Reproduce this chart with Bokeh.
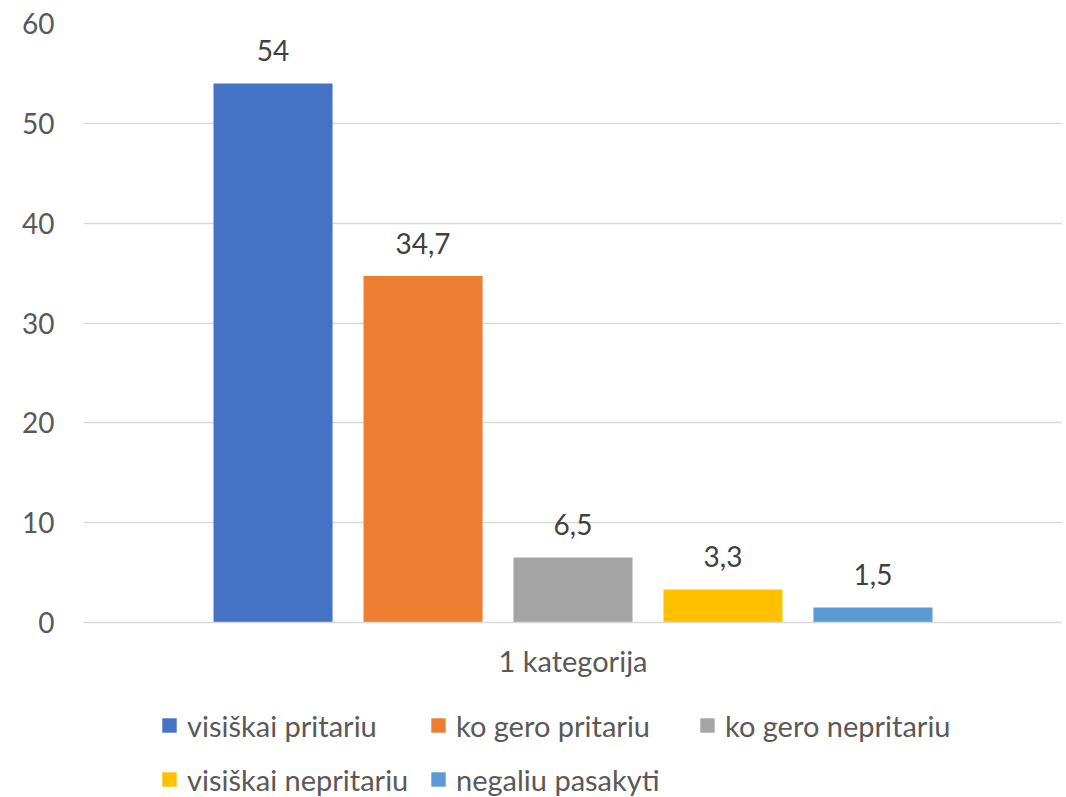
from bokeh.plotting import figure
from bokeh.models import (ColumnDataSource, FactorRange, Range1d, FixedTicker,
                          Legend, LegendItem)
from bokeh.layouts import column
from bokeh.transform import dodge
from bokeh.core.properties import value
from bokeh.embed import file_html
from bokeh.resources import INLINE

category = ["1 kategorija"]
series_names = ["visiškai pritariu", "ko gero pritariu", "ko gero nepritariu",
                "visiškai nepritariu", "negaliu pasakyti"]
series_values = [54, 34.7, 6.5, 3.3, 1.5]
colors = ["#4472C4", "#ED7D31", "#A5A5A5", "#FFC000", "#5B9BD5"]
y_ticks = [0, 10, 20, 30, 40, 50, 60]

FONT = "Lato"
TXT = "#595959"
W = 1062

p = figure(width=W, height=680, x_range=FactorRange(factors=category, range_padding=0),
           y_range=Range1d(0, 60), output_backend="svg", toolbar_location=None,
           min_border_left=83, min_border_right=0, min_border_top=23, min_border_bottom=58)
p.outline_line_color = None
p.xgrid.grid_line_color = None
p.ygrid.grid_line_color = "#D9D9D9"
p.ygrid.grid_line_width = 1.3
p.yaxis.ticker = FixedTicker(ticks=y_ticks)
p.yaxis.axis_line_color = None
p.yaxis.major_tick_line_color = None
p.yaxis.minor_tick_line_color = None
p.yaxis.major_label_standoff = 23
p.yaxis.major_label_text_font = FONT
p.yaxis.major_label_text_font_size = "28px"
p.yaxis.major_label_text_color = TXT
p.xaxis.axis_line_color = "#D9D9D9"
p.xaxis.axis_line_width = 1.3
p.xaxis.major_tick_line_color = None
p.xaxis.minor_tick_line_color = None
p.xaxis.major_label_standoff = 14
p.xaxis.major_label_text_font = FONT
p.xaxis.major_label_text_font_size = "29px"
p.xaxis.major_label_text_color = TXT

# legend strip below the chart; its own bar renderers are hidden (legend swatches only)
pl = figure(width=W, height=117, x_range=p.x_range, y_range=Range1d(-20, -10),
            output_backend="svg", toolbar_location=None,
            x_axis_location=None, y_axis_location=None, min_border=0)
pl.outline_line_color = None
pl.grid.visible = False

n = len(series_names)
step = 0.1532
bar_w = 0.1216
labels_fmt = [("%g" % v).replace(".", ",") for v in series_values]

items = []
for i, (name, val, col, lab) in enumerate(zip(series_names, series_values, colors, labels_fmt)):
    off = (i - (n - 1) / 2) * step
    src = ColumnDataSource(dict(x=category, y=[val], t=[lab]))
    p.vbar(x=dodge("x", off, range=p.x_range), top="y", width=bar_w, source=src,
           fill_color=col, line_color=None)
    p.text(x=dodge("x", off, range=p.x_range), y="y", text="t", source=src,
           text_align="center", text_baseline="alphabetic", y_offset=-33,
           text_font=value(FONT), text_font_size="28px", text_color="#404040")
    r = pl.vbar(x=dodge("x", off, range=p.x_range), top="y", width=bar_w, source=src,
                fill_color=col, line_color=None, visible=False)
    items.append(LegendItem(label=name, renderers=[r]))

def make_legend(its, loc):
    return Legend(items=its, orientation="horizontal", location=loc,
                  glyph_width=18, glyph_height=18, label_standoff=9, label_width=242,
                  label_height=40, spacing=0, padding=0, margin=0,
                  border_line_color=None, background_fill_alpha=0,
                  inactive_fill_alpha=0, click_policy="none",
                  label_text_font=FONT, label_text_font_size="29px",
                  label_text_color=TXT)

pl.add_layout(make_legend(items[:3], (77, 52)), "center")
pl.add_layout(make_legend(items[3:], (77, -2)), "center")

layout = column(p, pl, spacing=0)
open("out.html", "w").write(file_html(layout, INLINE))
